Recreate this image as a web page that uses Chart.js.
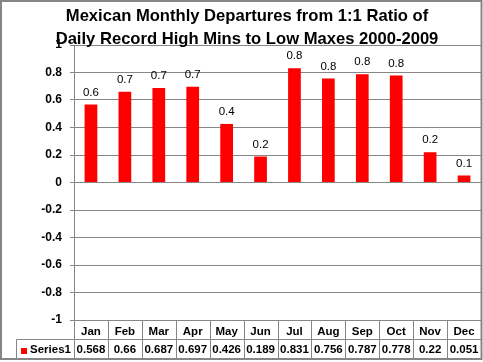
<!DOCTYPE html>
<html>
<head>
<meta charset="utf-8">
<script src="https://cdn.jsdelivr.net/npm/chart.js@4"></script>
<style>
  html, body { margin: 0; padding: 0; background: #fff; }
  #wrap { width: 483px; height: 362px; }
</style>
</head>
<body>
<div id="wrap"><canvas id="chart" width="483" height="362"></canvas></div>
<script>
// Chart data
const titleLines = ['Mexican Monthly Departures from 1:1 Ratio of', 'Daily Record High Mins to Low Maxes 2000-2009'];
const months = ['Jan', 'Feb', 'Mar', 'Apr', 'May', 'Jun', 'Jul', 'Aug', 'Sep', 'Oct', 'Nov', 'Dec'];
const seriesName = 'Series1';
const series1 = [0.568, 0.66, 0.687, 0.697, 0.426, 0.189, 0.831, 0.756, 0.787, 0.778, 0.22, 0.051];
const yTicks = [-1, -0.8, -0.6, -0.4, -0.2, 0, 0.2, 0.4, 0.6, 0.8, 1];

const FONT = '"Liberation Sans", Arial, sans-serif';
const GRID = '#868686';
const RED = '#ff0000';

// Title drawn at fixed lines
const titlePlugin = {
    id: 'titleLines',
    afterDraw(chart) {
        const ctx = chart.ctx;
        ctx.save();
        ctx.fillStyle = '#000';
        ctx.font = 'bold 16.6px ' + FONT;
        ctx.textAlign = 'center';
        ctx.textBaseline = 'alphabetic';
        ctx.fillText(titleLines[0], 247, 21);
        ctx.fillText(titleLines[1], 247, 43.5);
        ctx.restore();
    }
};

// Value labels above the bars
const valueLabels = {
    id: 'valueLabels',
    afterDatasetsDraw(chart) {
        const ctx = chart.ctx;
        const meta = chart.getDatasetMeta(0);
        ctx.save();
        ctx.fillStyle = '#000';
        ctx.font = '11.5px ' + FONT;
        ctx.textAlign = 'center';
        ctx.textBaseline = 'middle';
        meta.data.forEach((bar, i) => {
            ctx.fillText(series1[i].toFixed(1), bar.x, bar.y - 12);
        });
        ctx.restore();
    }
};

// Data table under the plot area
const dataTable = {
    id: 'dataTable',
    afterDraw(chart) {
        const ctx = chart.ctx;
        const xs = chart.scales.x;
        const area = chart.chartArea;
        const colW = xs.getPixelForValue(1) - xs.getPixelForValue(0);
        const top = Math.round(area.bottom) + 0.5;
        const mid = top + 19;
        const bot = top + 38;
        const leftCell = 16.5;
        const right = Math.round(area.right) + 0.5;

        ctx.save();
        ctx.strokeStyle = GRID;
        ctx.lineWidth = 1;
        ctx.beginPath();
        ctx.moveTo(leftCell, mid); ctx.lineTo(right, mid);
        ctx.moveTo(leftCell, bot); ctx.lineTo(right, bot);
        ctx.moveTo(leftCell, mid); ctx.lineTo(leftCell, bot);
        for (let i = 0; i <= months.length; i++) {
            const x = Math.round(xs.getPixelForValue(i) - colW / 2) + 0.5;
            ctx.moveTo(x, i === 0 ? area.top : top);
            ctx.lineTo(x, bot);
        }
        ctx.stroke();

        // outer chart border
        ctx.lineWidth = 2;
        ctx.strokeRect(1, 1, 480.5, 358);

        // legend key + series name
        ctx.fillStyle = RED;
        ctx.fillRect(21, 348, 6, 6);
        ctx.fillStyle = '#000';
        ctx.font = 'bold 11.5px ' + FONT;
        ctx.textBaseline = 'middle';
        ctx.textAlign = 'left';
        ctx.fillText(seriesName, 30, mid + 10);
        ctx.textAlign = 'center';
        series1.forEach((v, i) => {
            ctx.fillText(String(v), xs.getPixelForValue(i), mid + 10);
        });
        ctx.restore();
    }
};

new Chart(document.getElementById('chart'), {
    type: 'bar',
    data: {
        labels: months,
        datasets: [{
            label: seriesName,
            data: series1,
            backgroundColor: RED,
            borderWidth: 0,
            categoryPercentage: 1,
            barPercentage: 0.375
        }]
    },
    options: {
        responsive: false,
        animation: false,
        layout: { padding: { top: 45, right: 2, bottom: 0, left: 0 } },
        plugins: {
            legend: { display: false },
            tooltip: { enabled: false }
        },
        scales: {
            x: {
                grid: { display: false, drawTicks: false },
                border: { display: false },
                ticks: {
                    color: '#000',
                    font: { family: FONT, size: 11.5, weight: 'bold' },
                    padding: 5,
                    maxRotation: 0
                },
                afterFit: (scale) => { scale.height = 42; }
            },
            y: {
                min: -1,
                max: 1,
                afterBuildTicks: (scale) => { scale.ticks = yTicks.map(v => ({ value: v })); },
                grid: { color: GRID, tickLength: 4, drawTicks: true },
                border: { color: GRID },
                ticks: {
                    color: '#000',
                    font: { family: FONT, size: 12, weight: 'bold' },
                    padding: 8,
                    callback: (v) => String(v)
                },
                afterFit: (scale) => { scale.width = 74; }
            }
        }
    },
    plugins: [titlePlugin, valueLabels, dataTable]
});
</script>
</body>
</html>
